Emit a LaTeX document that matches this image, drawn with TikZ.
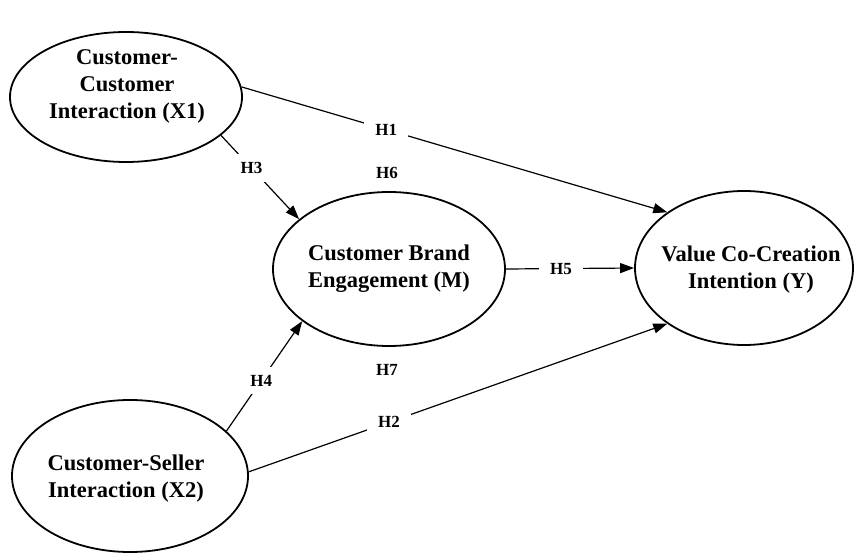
\documentclass[tikz,border=0pt]{standalone}
\usepackage{fontspec}
\setmainfont{Liberation Serif}
\usetikzlibrary{shapes.geometric,arrows.meta}
\begin{document}
\begin{tikzpicture}[x=1pt,y=-1pt,
  construct/.style={draw=black,line width=1.8pt,ellipse,inner sep=0pt},
  ctext/.style={align=center,font=\fontsize{22.5}{27}\selectfont\bfseries,inner sep=0pt},
  lbl/.style={font=\fontsize{17}{19}\selectfont\bfseries,fill=white,inner xsep=11pt,inner ysep=5pt},
  free/.style={font=\fontsize{17}{19}\selectfont\bfseries,inner sep=0pt},
  link/.style={draw=black,line width=1.2pt},
  arr/.style={link,-{Triangle[length=14pt,width=10pt]}}]
\useasboundingbox (0,0) rectangle (854,553);
\node[construct,minimum width=232pt,minimum height=130pt] (X1) at (126,97) {};
\node[construct,minimum width=232pt,minimum height=154pt] (M) at (389,269) {};
\node[construct,minimum width=218pt,minimum height=154pt] (Y) at (744,268) {};
\node[construct,minimum width=236pt,minimum height=152pt] (X2) at (130,476) {};
\node[ctext] (tX1) at (127,86) {Customer-\\Customer\\Interaction (X1)};
\node[ctext] (tM) at (389,269) {Customer Brand\\Engagement (M)};
\node[ctext] (tY) at (751,270) {Value Co-Creation\\Intention (Y)};
\node[ctext] (tX2) at (126,479) {Customer-Seller\\Interaction (X2)};
\draw[arr] (X1.5) -- node[lbl,pos=0.34] {H1} (Y.144);
\draw[arr] (X2.2) -- node[lbl,pos=0.335] {H2} (Y.216);
\draw[arr] (X1.-22) -- node[lbl,pos=0.39,inner xsep=6pt,inner ysep=8pt] {H3} (M.151);
\draw[arr] (X2.25) -- node[lbl,pos=0.46,inner xsep=6pt,inner ysep=8pt] {H4} (M.211);
\draw[arr] (M.east) -- node[lbl,pos=0.43] {H5} (Y.west);
\node[free] (H6) at (387,173) {H6};
\node[free] (H7) at (387,370) {H7};
\end{tikzpicture}
\end{document}
